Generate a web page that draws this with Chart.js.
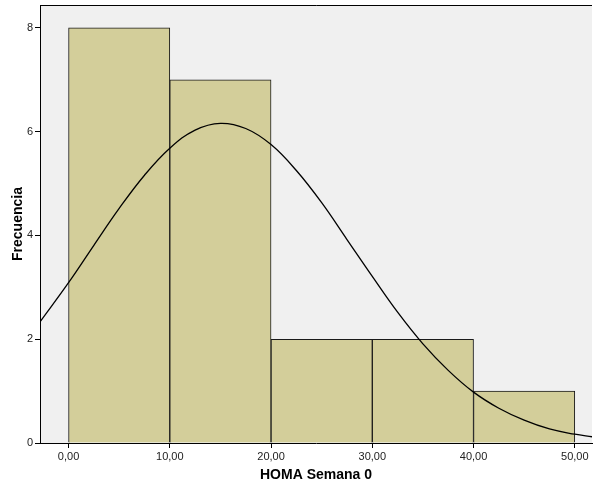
<!DOCTYPE html>
<html>
<head>
<meta charset="utf-8">
<script src="https://cdn.jsdelivr.net/npm/chart.js@4/dist/chart.umd.min.js"></script>
<style>
  html, body { margin: 0; padding: 0; background: #fff; }
  #wrap { width: 593px; height: 488px; }
</style>
</head>
<body>
<div id="wrap"><canvas id="myChart" width="593" height="488"></canvas></div>
<script>
// histogram bins (centre of each 10-unit bin) and counts
var binCenters = [5, 15, 25, 35, 45];
var counts = [8, 7, 2, 2, 1];

var curveX = [-2.8, 0, 2.5, 5, 7.5, 10, 12.5, 15, 17.5, 20, 22.5, 25, 27.5, 30, 32.5, 35, 37.5, 40, 42.5, 45, 47.5, 50, 51.7];
var curveY = [2.34, 3.09, 3.81, 4.52, 5.16, 5.68, 6.03, 6.16, 6.06, 5.75, 5.25, 4.63, 3.92, 3.21, 2.52, 1.91, 1.40, 0.98, 0.67, 0.44, 0.27, 0.17, 0.12];

var xTicks = [0, 10, 20, 30, 40, 50];
var yTicks = [0, 2, 4, 6, 8];

document.addEventListener('DOMContentLoaded', function () {
    var barData = binCenters.map(function (c, i) { return { x: c, y: counts[i] }; });
    var lineData = curveX.map(function (x, i) { return { x: x, y: curveY[i] }; });

    // grey plot background plus the top/left frame
    var plotFrame = {
        id: 'plotFrame',
        beforeDraw: function (chart) {
            var a = chart.chartArea, ctx = chart.ctx;
            ctx.save();
            ctx.fillStyle = '#f0f0f0';
            ctx.fillRect(a.left, a.top, a.right - a.left, a.bottom - a.top);
            ctx.restore();
        },
        afterDraw: function (chart) {
            var a = chart.chartArea, ctx = chart.ctx;
            ctx.save();
            ctx.strokeStyle = '#000';
            ctx.lineWidth = 1;
            ctx.beginPath();
            ctx.moveTo(a.left + 0.5, a.bottom);
            ctx.lineTo(a.left + 0.5, a.top + 0.5);
            ctx.lineTo(a.right, a.top + 0.5);
            ctx.stroke();
            ctx.restore();
        }
    };

    var ctx = document.getElementById('myChart').getContext('2d');
    new Chart(ctx, {
        type: 'bar',
        data: {
            datasets: [{
                type: 'line',
                data: lineData,
                borderColor: '#000',
                borderWidth: 1.3,
                pointRadius: 0,
                tension: 0.4,
                fill: false,
                clip: 0,
                order: 0
            }, {
                type: 'bar',
                data: barData,
                backgroundColor: 'rgb(211,206,154)',
                borderColor: '#1a1a1a',
                borderWidth: 1,
                barPercentage: 1,
                categoryPercentage: 1,
                order: 1
            }]
        },
        plugins: [plotFrame],
        options: {
            responsive: false,
            animation: false,
            layout: { padding: { top: 5, right: 1, left: 0, bottom: 0 } },
            plugins: {
                legend: { display: false },
                tooltip: { enabled: false }
            },
            scales: {
                x: {
                    type: 'linear',
                    offset: false,
                    min: -2.82,
                    max: 51.7,
                    afterFit: function (scale) {
                        scale.height = 45;
                        scale.paddingLeft = 0;
                        scale.paddingRight = 0;
                    },
                    afterBuildTicks: function (scale) {
                        scale.ticks = xTicks.map(function (v) { return { value: v }; });
                    },
                    ticks: {
                        includeBounds: false,
                        autoSkip: false,
                        maxRotation: 0,
                        padding: 2,
                        color: '#222',
                        font: { family: 'Liberation Sans, Arial, sans-serif', size: 11 },
                        callback: function (v) { return v.toFixed(2).replace('.', ','); }
                    },
                    grid: {
                        offset: false,
                        drawOnChartArea: false,
                        drawTicks: true,
                        tickLength: 5,
                        tickColor: '#000'
                    },
                    border: { display: true, color: '#000', width: 1 },
                    title: {
                        display: true,
                        text: 'HOMA Semana 0',
                        color: '#000',
                        font: { family: 'Liberation Sans, Arial, sans-serif', size: 14, weight: 'bold' },
                        padding: { top: 0, bottom: 4 }
                    }
                },
                y: {
                    min: 0,
                    max: 8.44,
                    afterFit: function (scale) {
                        scale.width = 40;
                        // the top label sits below the axis end, so no extra room is needed
                        scale.paddingTop = 0;
                        scale.paddingBottom = 0;
                    },
                    afterBuildTicks: function (scale) {
                        scale.ticks = yTicks.map(function (v) { return { value: v }; });
                    },
                    ticks: {
                        includeBounds: false,
                        padding: 2,
                        color: '#222',
                        font: { family: 'Liberation Sans, Arial, sans-serif', size: 11 }
                    },
                    grid: {
                        drawOnChartArea: false,
                        drawTicks: true,
                        tickLength: 5,
                        tickColor: '#000'
                    },
                    border: { display: true, color: '#000', width: 1 },
                    title: {
                        display: true,
                        text: 'Frecuencia',
                        color: '#000',
                        font: { family: 'Liberation Sans, Arial, sans-serif', size: 14, weight: 'bold' },
                        padding: { top: 10, bottom: 0 }
                    }
                }
            }
        }
    });
});
</script>
</body>
</html>
